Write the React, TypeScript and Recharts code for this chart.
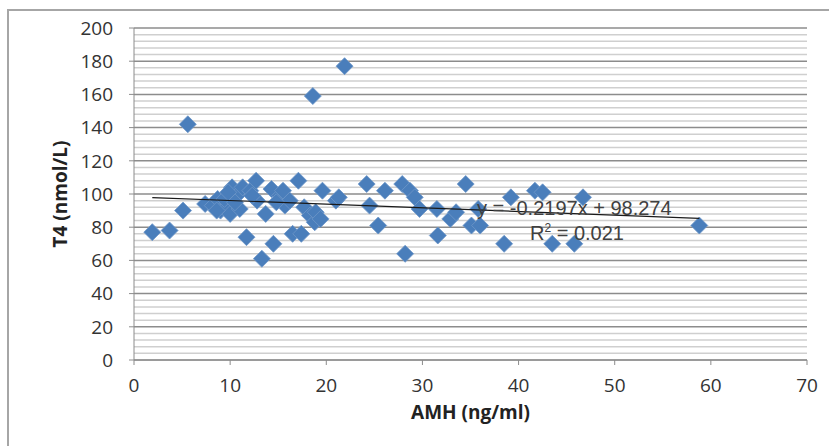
import { ScatterChart, Scatter, XAxis, YAxis, ReferenceLine } from "recharts";

const amh = [
  1.9, 3.7, 5.1, 5.6, 7.4, 8.2, 8.7, 9.0, 9.6, 10.0, 10.2, 10.7, 11.0, 11.3, 11.7,
  12.1, 12.7, 12.8, 13.3, 13.7, 14.3, 14.5, 15.2, 15.5, 15.7, 16.5, 17.1, 17.4,
  17.7, 18.3, 18.6, 18.8, 18.9, 19.4, 19.6, 21.0, 21.3, 21.9, 24.2, 24.5, 25.4,
  26.1, 27.9, 28.2, 28.7, 29.2, 29.7, 31.5, 31.6, 32.9, 33.5, 34.5, 35.1, 35.8,
  36.0, 38.5, 39.2, 41.7, 42.5, 43.5, 45.8, 46.7, 58.8, 9.4, 10.5, 16.2, 12.3, 9.8,
  8.6, 14.8,
];
const t4 = [
  77, 78, 90, 142, 94, 93, 97, 90, 92, 88, 104, 99, 91, 104, 74,
  102, 108, 96, 61, 88, 103, 70, 99, 102, 93, 76, 108, 76,
  92, 87, 159, 83, 89, 85, 102, 96, 98, 177, 106, 93, 81,
  102, 106, 64, 102, 98, 91, 91, 75, 85, 89, 106, 81, 91,
  81, 70, 98, 102, 101, 70, 70, 98, 81, 97, 95, 96, 99, 101,
  90, 95,
];
const xTicks = [0, 10, 20, 30, 40, 50, 60, 70];
const yTicks = [0, 20, 40, 60, 80, 100, 120, 140, 160, 180, 200];
const minorStep = 4;

const slope = -0.2197;
const intercept = 98.274;

const points = amh.map((x, i) => ({ x, y: t4[i] }));
const trend = [Math.min(...amh), Math.max(...amh)].map((x) => ({
  x,
  y: slope * x + intercept,
}));
const minorLines: number[] = [];
for (let v = 0; v <= 200; v += minorStep) if (v % 20 !== 0) minorLines.push(v);

const font = "'Open Sans', 'Liberation Sans', sans-serif";
const eqFont = "'Liberation Sans', Arial, sans-serif";

const Diamond = (props: any) => {
  const { cx, cy } = props;
  const r = 8.5;
  return (
    <polygon
      points={`${cx},${cy - r} ${cx + r},${cy} ${cx},${cy + r} ${cx - r},${cy}`}
      fill="#4a7ebb"
      stroke="#6f97c8"
      strokeWidth={0.8}
    />
  );
};

export default function App() {
  return (
    <div
      style={{
        position: "absolute",
        left: 0,
        top: 0,
        width: 829,
        height: 446,
        background: "#fff",
        overflow: "hidden",
        fontFamily: font,
      }}
    >
      <div
        style={{
          position: "absolute",
          left: 7,
          top: 9,
          width: 840,
          height: 460,
          borderLeft: "2px solid #a6a6a6",
          borderTop: "2px solid #a6a6a6",
        }}
      />
      <ScatterChart
        width={829}
        height={446}
        margin={{ top: 28, right: 22, left: 0, bottom: 0 }}
        style={{ position: "absolute", left: 0, top: 0 }}
      >
        {minorLines.map((v) => (
          <ReferenceLine key={"m" + v} y={v} stroke="#cfcfcf" strokeWidth={1.5} ifOverflow="visible" />
        ))}
        {yTicks.map((v) => (
          <ReferenceLine key={"M" + v} y={v} stroke="#8c8c8c" strokeWidth={1.5} ifOverflow="visible" />
        ))}
        <XAxis
          type="number"
          dataKey="x"
          domain={[0, 70]}
          ticks={xTicks}
          height={86}
          stroke="#8c8c8c"
          tickSize={5}
          tickMargin={14}
          tick={{ fill: "#333", fontSize: 19, fontFamily: font }}
          label={{
            value: "AMH (ng/ml)",
            position: "insideTop",
            offset: 46,
            fill: "#222",
            fontSize: 19,
            fontWeight: 700,
            fontFamily: font,
          }}
        />
        <YAxis
          type="number"
          dataKey="y"
          domain={[0, 200]}
          ticks={yTicks}
          width={134}
          stroke="#8c8c8c"
          tickSize={5}
          tickMargin={16}
          tick={{ fill: "#333", fontSize: 19, fontFamily: font }}
          label={{
            value: "T4 (nmol/L)",
            angle: -90,
            position: "insideLeft",
            offset: 60,
            fill: "#222",
            fontSize: 19,
            fontWeight: 700,
            fontFamily: font,
            style: { textAnchor: "middle" },
          }}
        />
        <Scatter data={points} shape={Diamond} isAnimationActive={false} />
        <Scatter
          data={trend}
          line={{ stroke: "#1a1a1a", strokeWidth: 1.2 }}
          shape={() => null}
          isAnimationActive={false}
        />
      </ScatterChart>
      <div
        style={{
          position: "absolute",
          left: 477,
          top: 197,
          fontSize: 20,
          lineHeight: "23px",
          fontFamily: eqFont,
          color: "#404040",
          whiteSpace: "nowrap",
        }}
      >
        y = -0.2197x + 98.274
      </div>
      <div
        style={{
          position: "absolute",
          left: 530,
          top: 222,
          fontSize: 20,
          lineHeight: "23px",
          fontFamily: eqFont,
          color: "#404040",
          whiteSpace: "nowrap",
        }}
      >
        R<sup style={{ fontSize: 12, lineHeight: 0 }}>2</sup> = 0.021
      </div>
    </div>
  );
}
